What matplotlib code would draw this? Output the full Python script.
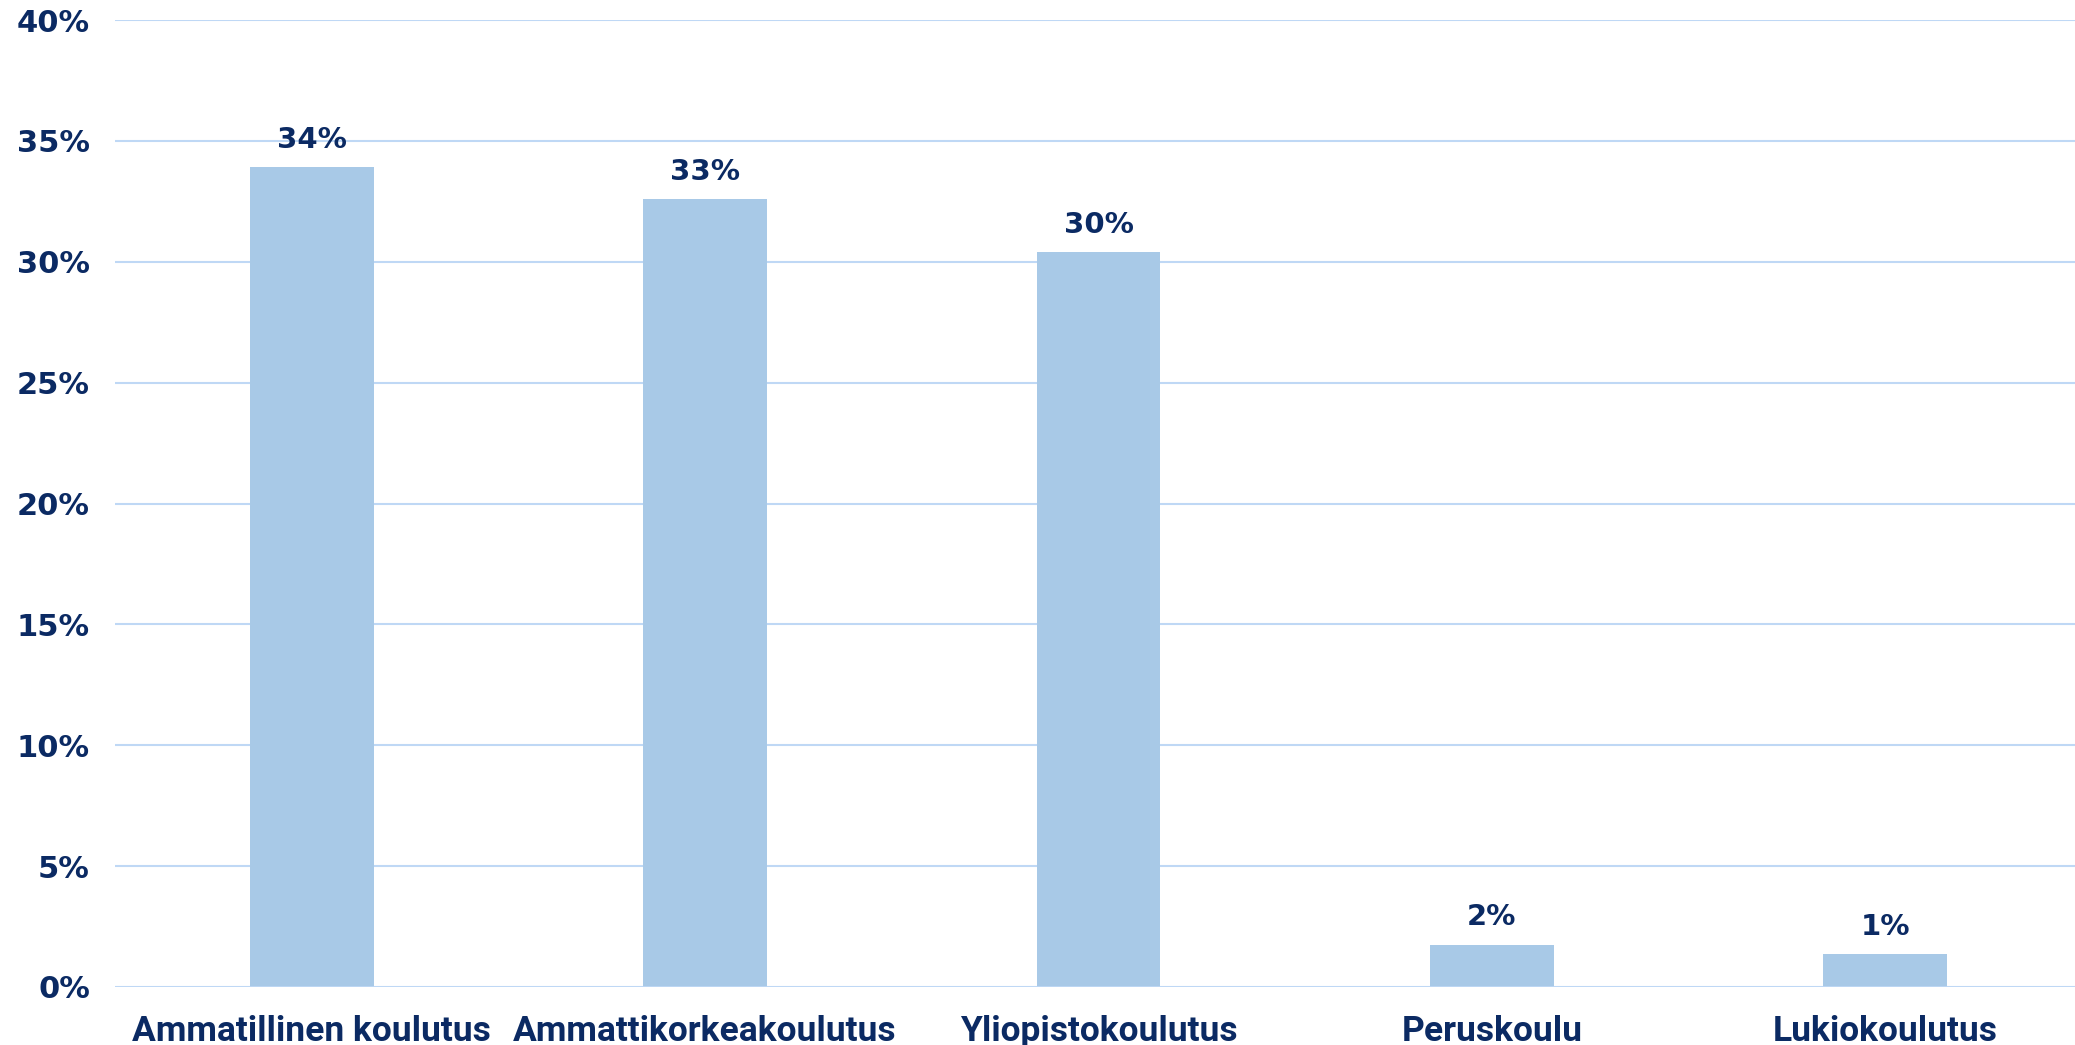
import matplotlib
matplotlib.use("Agg")
import matplotlib.pyplot as plt
import numpy as np

# education level shares (%)
categories = ["Ammatillinen koulutus", "Ammattikorkeakoulutus", "Yliopistokoulutus",
              "Peruskoulu", "Lukiokoulutus"]
shares = [33.9, 32.6, 30.4, 1.75, 1.35]
bar_labels = ["34%", "33%", "30%", "2%", "1%"]
y_ticks = [0, 5, 10, 15, 20, 25, 30, 35, 40]

navy = "#0B2A63"
bar_col = "#A8C9E7"
grid_col = "#BFD8F5"

fig = plt.figure(figsize=(20.75, 10.45), dpi=100)
ax = fig.add_axes([115 / 2075, 58 / 1045, 1967 / 2075, (987 - 20) / 1045])

x = np.arange(len(categories))
bars = ax.bar(x, shares, width=0.315, color=bar_col, zorder=2)

for b, lab in zip(bars, bar_labels):
    ax.text(b.get_x() + b.get_width() / 2, b.get_height() + 0.55, lab,
            ha="center", va="bottom", fontsize=21, fontweight="bold",
            color=navy, family="DejaVu Sans")

ax.set_xlim(-0.5, len(categories) - 0.5)
ax.set_ylim(0, 40)
ax.set_yticks(y_ticks)
ax.set_yticklabels([f"{t}%" for t in y_ticks], fontsize=22, fontweight="bold",
                   color=navy, family="DejaVu Sans")
ax.set_xticks(x)
ax.set_xticklabels(categories, fontsize=25.5, fontweight="bold", color=navy,
                   family="Roboto")

ax.yaxis.grid(True, color=grid_col, linewidth=1.5, zorder=0)
ax.set_axisbelow(True)
for s in ax.spines.values():
    s.set_visible(False)
ax.axhline(0, color=grid_col, linewidth=2, zorder=3)
ax.tick_params(axis="y", length=0, pad=18)
ax.tick_params(axis="x", length=0, pad=20)

fig.savefig("out.png", dpi=100)
